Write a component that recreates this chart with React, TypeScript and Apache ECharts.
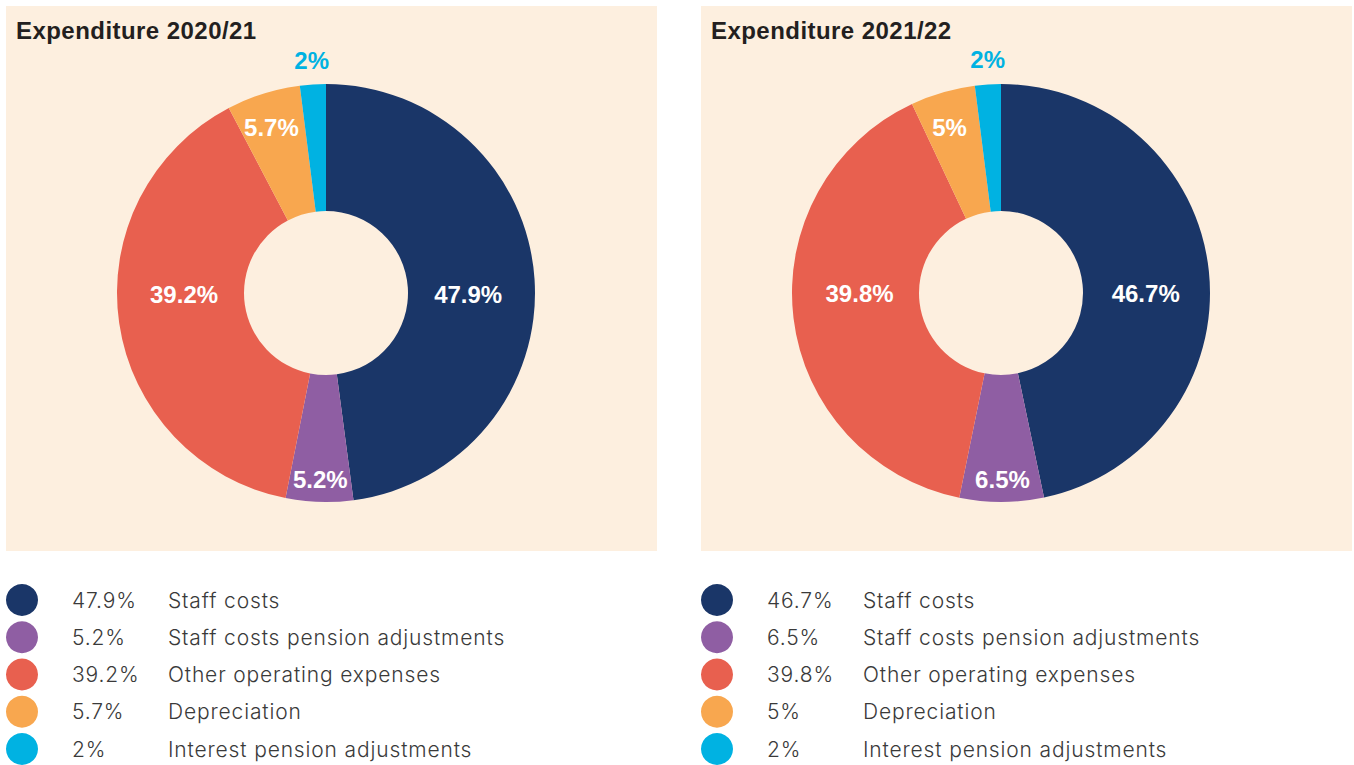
import React, { useEffect, useRef } from "react";
import * as echarts from "echarts";

const categories = [
  "Staff costs",
  "Staff costs pension adjustments",
  "Other operating expenses",
  "Depreciation",
  "Interest pension adjustments",
];
const values2020 = [47.9, 5.2, 39.2, 5.7, 2];
const values2021 = [46.7, 6.5, 39.8, 5, 2];
const titles = ["Expenditure 2020/21", "Expenditure 2021/22"];

const colors = ["#1a3668", "#8f5ea3", "#e8604f", "#f8a74f", "#00b2e2"];

// label nudges (style only): [dx, dy] from the default inside position
const labelNudge2020 = [
  [-6, 11],
  [-1, 38],
  [5, -20],
  [-10, -24],
  [-5, -84],
];
const labelNudge2021 = [
  [-3, 16],
  [1, 38],
  [6, -17],
  [-10, -23],
  [-4, -85],
];

const LEG_FONT = "Inter, 'Liberation Sans', Arial, sans-serif";
const BOLD_FONT = "'Liberation Sans', Arial, sans-serif";
const TITLE_FONT = "Helvetica, 'Liberation Sans', Arial, sans-serif";

function pieSeries(values: number[], nudges: number[][], cx: number) {
  return {
    type: "pie",
    center: [cx, 293],
    radius: [82, 209],
    startAngle: 90,
    clockwise: true,
    avoidLabelOverlap: false,
    silent: true,
    label: {
      show: true,
      position: "inside",
      formatter: "{c}%",
      color: "#ffffff",
      fontFamily: BOLD_FONT,
      fontWeight: "bold",
      fontSize: 24,
    },
    labelLine: { show: false },
    labelLayout: (p: any) => ({
      dx: nudges[p.dataIndex][0],
      dy: nudges[p.dataIndex][1],
      hideOverlap: false,
    }),
    emphasis: { disabled: true },
    data: values.map((v, i) => ({
      value: v,
      name: categories[i],
      itemStyle: { color: colors[i] },
      label: { color: i === 4 ? colors[4] : "#ffffff" },
    })),
  };
}

function legendFor(values: number[], left: number) {
  return {
    orient: "vertical",
    left,
    top: 584,
    padding: 0,
    itemWidth: 32,
    itemHeight: 32,
    itemGap: 5.25,
    icon: "circle",
    selectedMode: false,
    data: categories.map((c, i) => ({ name: c, itemStyle: { color: colors[i] } })),
    formatter: (name: string) => {
      const i = categories.indexOf(name);
      return `{s| }{p|${values[i]}%}{n|${name}}`;
    },
    textStyle: {
      rich: {
        s: { width: 29, fontSize: 21, fontFamily: LEG_FONT },
        p: { width: 96, fontSize: 21, fontFamily: LEG_FONT, fontWeight: 300, color: "#3a3a3a", lineHeight: 24 },
        n: { fontSize: 21, fontFamily: LEG_FONT, fontWeight: 300, color: "#3a3a3a", lineHeight: 24 },
      },
    },
  };
}

export default function App() {
  const ref = useRef<HTMLDivElement>(null);
  useEffect(() => {
    if (!ref.current) return;
    const chart = echarts.init(ref.current, null, { renderer: "svg" });
    chart.setOption({
      animation: false,
      backgroundColor: "#ffffff",
      graphic: [
        { type: "rect", shape: { x: 6, y: 6, width: 651, height: 545 }, style: { fill: "#fdefdf" }, z: -10, silent: true },
        { type: "rect", shape: { x: 701, y: 6, width: 651, height: 545 }, style: { fill: "#fdefdf" }, z: -10, silent: true },
      ],
      title: [
        {
          text: titles[0],
          left: 16,
          top: 18,
          padding: 0,
          textStyle: { fontFamily: TITLE_FONT, fontWeight: "bold", fontSize: 24, color: "#231f20" },
        },
        {
          text: titles[1],
          left: 711,
          top: 18,
          padding: 0,
          textStyle: { fontFamily: TITLE_FONT, fontWeight: "bold", fontSize: 24, color: "#231f20" },
        },
      ],
      legend: [legendFor(values2020, 6), legendFor(values2021, 701)],
      series: [pieSeries(values2020, labelNudge2020, 326), pieSeries(values2021, labelNudge2021, 1001)],
    });
    return () => chart.dispose();
  }, []);
  return (
    <>
      <style>{`text[style*="Inter"]{letter-spacing:0.85px;} text[style*="Helvetica"]{letter-spacing:0.45px;}`}</style>
      <div
        ref={ref}
        style={{ position: "absolute", left: 0, top: 0, width: 1354, height: 765 }}
      />
    </>
  );
}
